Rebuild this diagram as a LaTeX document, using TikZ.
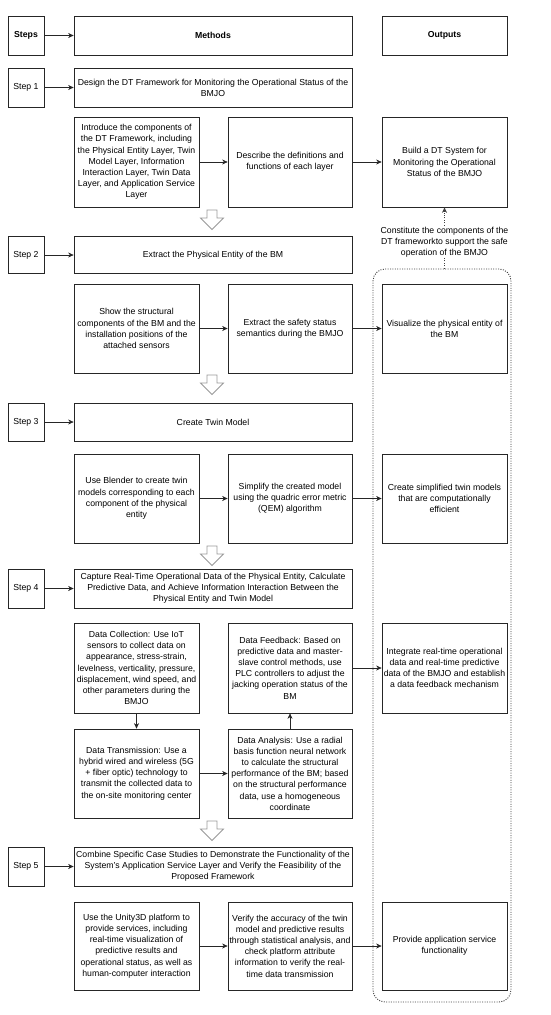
\documentclass[tikz,border=0pt]{standalone}
\usepackage{fontspec}
\setmainfont{Liberation Sans}
\usetikzlibrary{arrows.meta}
\begin{document}
\begin{tikzpicture}[x=1pt,y=-1pt,
  txt/.style={font=\fontsize{8.7}{11.2}\selectfont, align=center},
  box/.style={txt, draw=black!85, line width=0.7pt, rectangle, inner sep=0.5pt, fill=white},
  stepbox/.style={box, minimum width=36, minimum height=39},
  wide/.style={box, minimum width=278, minimum height=39},
  sub/.style={box, minimum width=125, minimum height=89},
  arr/.style={line width=0.7pt, draw=black!85, -{Stealth[length=5.5pt,width=5pt]}},
  dotline/.style={draw=black!75, line width=0.9pt, dash pattern=on 1pt off 1.4pt},
  hollow/.style={draw=black!40, line width=0.8pt, fill=white, line join=miter}
]
\useasboundingbox (0,0) rectangle (550,1015);
\fill[white] (0,0) rectangle (550,1015);

% group
\node[dotline, rounded corners=12, minimum width=138, minimum height=733, inner sep=0] (grp) at (442,635.5) {};

% headers
\node[stepbox] (s0) at (26,35.5) {\textbf{Steps}};
\node[wide] (m0) at (213,35.5) {\textbf{Methods}};
\node[box, minimum width=125, minimum height=39] (o0) at (444.5,35.5) {\textbf{Outputs}};
\draw[arr] (s0) -- (m0);

% step 1
\node[stepbox] (s1) at (26,87.5) {Step 1};
\node[wide] (m1) at (213,87.5) {Design the DT Framework for Monitoring the Operational Status of the\\BMJO};
\draw[arr] (s1) -- (m1);
\node[sub, minimum height=90] (a1) at (136.5,162) {Introduce the components of\\the DT Framework, including\\the Physical Entity Layer, Twin\\Model Layer, Information\\Interaction Layer, Twin Data\\Layer, and Application Service\\Layer};
\node[sub, minimum width=124, minimum height=90] (b1) at (290,162) {Describe the definitions and\\functions of each layer};
\node[sub, minimum height=90] (c1) at (444.5,162) {Build a DT System for\\Monitoring the Operational\\Status of the BMJO};
\draw[arr] (a1) -- (b1);
\draw[arr] (b1) -- (c1);

% label connector
\node[txt, fill=white, inner sep=1pt] (lbl) at (444.5,242) {Constitute the components of the\\DT frameworkto support the safe\\operation of the BMJO};
\draw[dotline] (grp.north -| lbl.south) -- (lbl.south);
\draw[dotline, -{Stealth[length=5.5pt,width=5pt]}] (lbl.north) -- (c1.south);

% step 2
\node[stepbox, minimum height=37] (s2) at (26,255) {Step 2};
\node[wide, minimum height=37] (m2) at (213,255) {Extract the Physical Entity of the BM};
\draw[arr] (s2) -- (m2);
\node[sub] (a2) at (136.5,328.5) {Show the structural\\components of the BM and the\\installation positions of the\\attached sensors};
\node[sub, minimum width=124] (b2) at (290,328.5) {Extract the safety status\\semantics during the BMJO};
\node[sub] (c2) at (444.5,328.5) {Visualize the physical entity of\\the BM};
\draw[arr] (a2) -- (b2);
\draw[arr] (b2) -- (c2);

% step 3
\node[stepbox, minimum height=38] (s3) at (26,422) {Step 3};
\node[wide, minimum height=38] (m3) at (213,422) {Create Twin Model};
\draw[arr] (s3) -- (m3);
\node[sub] (a3) at (136.5,498.5) {Use Blender to create twin\\models corresponding to each\\component of the physical\\entity};
\node[sub, minimum width=124] (b3) at (290,498.5) {Simplify the created model\\using the quadric error metric\\(QEM) algorithm};
\node[sub] (c3) at (444.5,498.5) {Create simplified twin models\\that are computationally\\efficient};
\draw[arr] (a3) -- (b3);
\draw[arr] (b3) -- (c3);

% step 4
\node[stepbox] (s4) at (26,588.5) {Step 4};
\node[wide] (m4) at (213,588.5) {Capture Real-Time Operational Data of the Physical Entity, Calculate\\Predictive Data, and Achieve Information Interaction Between the\\Physical Entity and Twin Model};
\draw[arr] (s4) -- (m4);
\node[sub, minimum height=90] (a4) at (136.5,668) {Data Collection: Use IoT\\sensors to collect data on\\appearance, stress-strain,\\levelness, verticality, pressure,\\displacement, wind speed, and\\other parameters during the\\BMJO};
\node[sub, minimum width=124, minimum height=90] (b4) at (290,668) {Data Feedback: Based on\\predictive data and master-\\slave control methods, use\\PLC controllers to adjust the\\jacking operation status of the\\BM};
\node[sub, minimum height=90] (c4) at (444.5,668) {Integrate real-time operational\\data and real-time predictive\\data of the BMJO and establish\\a data feedback mechanism};
\draw[arr] (b4) -- (c4);
\node[sub] (a4b) at (136.5,773.5) {Data Transmission: Use a\\hybrid wired and wireless (5G\\+ fiber optic) technology to\\transmit the collected data to\\the on-site monitoring center};
\node[sub, minimum width=124] (b4b) at (290,773.5) {Data Analysis: Use a radial\\basis function neural network\\to calculate the structural\\performance of the BM; based\\on the structural performance\\data, use a homogeneous\\coordinate};
\draw[arr] (a4) -- (a4b);
\draw[arr] (a4b) -- (b4b);
\draw[arr] (b4b) -- (b4);

% step 5
\node[stepbox] (s5) at (26,866.5) {Step 5};
\node[wide] (m5) at (213,866.5) {Combine Specific Case Studies to Demonstrate the Functionality of the\\System's Application Service Layer and Verify the Feasibility of the\\Proposed Framework};
\draw[arr] (s5) -- (m5);
\node[sub, minimum height=88] (a5) at (136.5,946) {Use the Unity3D platform to\\provide services, including\\real-time visualization of\\predictive results and\\operational status, as well as\\human-computer interaction};
\node[sub, minimum width=124, minimum height=88] (b5) at (290,946) {Verify the accuracy of the twin\\model and predictive results\\through statistical analysis, and\\check platform attribute\\information to verify the real-\\time data transmission};
\node[sub, minimum height=88] (c5) at (444.5,946) {Provide application service\\functionality};
\draw[arr] (a5) -- (b5);
\draw[arr] (b5) -- (c5);

% hollow arrows
\foreach \t in {210,375,546,821}
  \draw[hollow] (207,\t) -- (217,\t) -- (217,\t+8) -- (223.5,\t+8) -- (212,\t+19.5) -- (200.5,\t+8) -- (207,\t+8) -- cycle;
\end{tikzpicture}
\end{document}
